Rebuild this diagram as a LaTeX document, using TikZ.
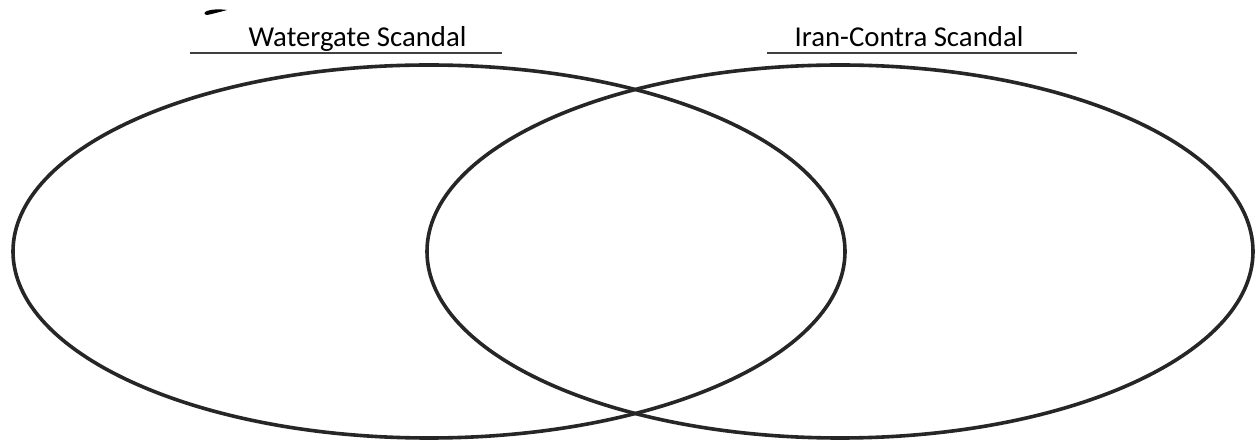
\documentclass[tikz,border=0pt]{standalone}
\usepackage{fontspec}
\setmainfont{Carlito}
\begin{document}
\begin{tikzpicture}[x=0.5pt,y=-0.5pt,
  venn/.style={draw=black!85, line width=1.8pt},
  rule/.style={draw=black!75, line width=1pt},
  title/.style={font=\fontsize{14.4pt}{16pt}\selectfont, inner sep=0pt, anchor=base}]
\useasboundingbox (0,0) rectangle (1260,443);
\fill[white] (0,0) rectangle (1260,443);
% smudge
\fill[black] (205,12) .. controls (210,9) and (220,9) .. (227,10) .. controls (220,12) and (212,14) .. (207,15) .. controls (204,14) .. (205,12) -- cycle;
% ellipses
\draw[venn] (429,251.5) ellipse [x radius=416, y radius=186.5];
\draw[venn] (840,251.5) ellipse [x radius=413, y radius=186.5];
% titles
\coordinate (l1) at (190,53);
\coordinate (l2) at (502,53);
\coordinate (r1) at (767,53);
\coordinate (r2) at (1077,53);
\draw[rule] (l1) -- (l2);
\draw[rule] (r1) -- (r2);
\node[title] (wg) at (357.5,47) {Watergate Scandal};
\node[title] (ic) at (909,47) {Iran-Contra Scandal};
\end{tikzpicture}
\end{document}
